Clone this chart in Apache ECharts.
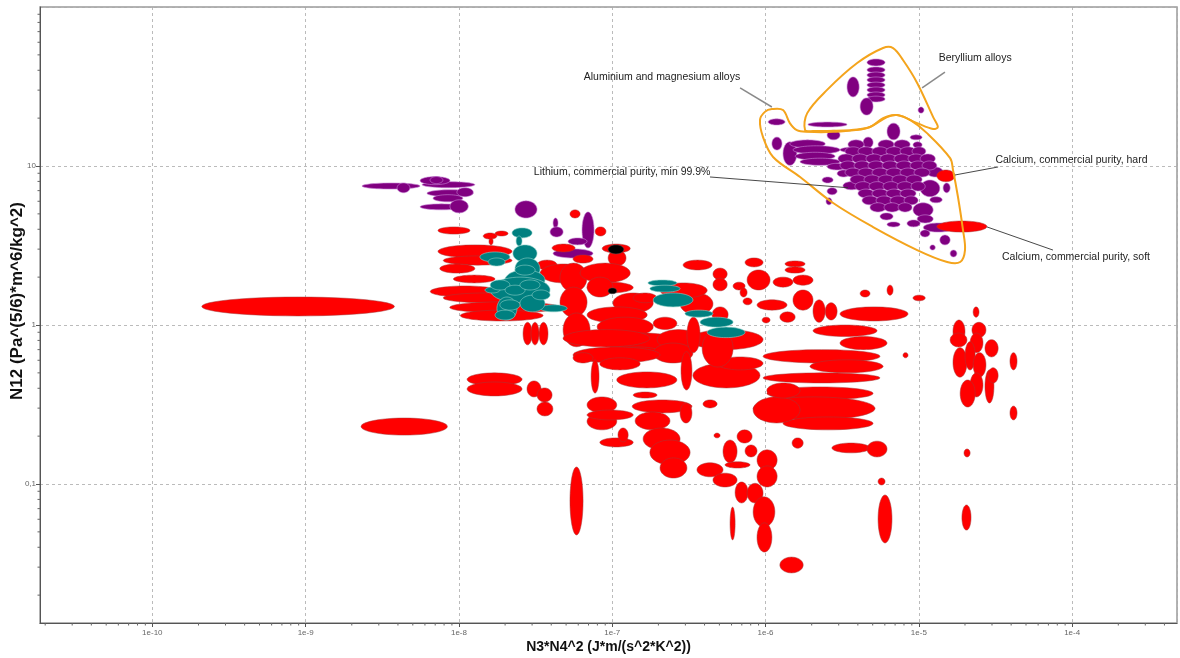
<!DOCTYPE html>
<html>
<head>
<meta charset="utf-8">
<script src="https://cdn.jsdelivr.net/npm/echarts@6/dist/echarts.min.js"></script>
<style>
  html, body { margin: 0; padding: 0; background: #fff; }
  #chart { width: 1180px; height: 658px; }
</style>
</head>
<body>
<div id="chart"></div>
<script>
// Each material is a property range: [xLow, xHigh, yLow, yHigh]
// x = N3*N4^2 (J*m/(s^2*K^2)), y = N12 (Pa^(5/6)*m^6/kg^2)

const redMaterials = [
  [2.1e-10, 3.8e-9, 1.14, 1.50], [2.3e-9, 8.4e-9, 0.203, 0.26],
  [1.13e-8, 2.58e-8, 0.414, 0.50], [1.13e-8, 2.58e-8, 0.358, 0.438],
  [2.78e-8, 3.43e-8, 0.353, 0.445], [3.23e-8, 4.05e-8, 0.328, 0.402], [3.23e-8, 4.1e-8, 0.268, 0.328],
  [7.3e-9, 1.18e-8, 3.73, 4.14], [1.72e-8, 2.09e-8, 3.63, 3.90], [1.44e-8, 1.77e-8, 3.47, 3.79],
  [1.57e-8, 1.67e-8, 3.19, 3.53],
  [7.3e-9, 2.22e-8, 2.64, 3.19], [7.9e-9, 2.22e-8, 2.38, 2.72], [7.5e-9, 1.27e-8, 2.12, 2.42],
  [9.2e-9, 1.72e-8, 1.84, 2.06], [6.5e-9, 1.85e-8, 1.50, 1.76], [7.9e-9, 2.78e-8, 1.38, 1.59],
  [8.7e-9, 4.56e-8, 1.19, 1.40], [1.02e-8, 3.54e-8, 1.06, 1.24],
  [3.23e-8, 4.37e-8, 2.22, 2.56], [3.38e-8, 6.85e-8, 1.84, 2.42], [4.56e-8, 6.85e-8, 1.61, 2.45],
  [4.56e-8, 6.85e-8, 1.12, 1.73], [4.78e-8, 7.17e-8, 0.73, 1.19],
  [5.3e-8, 6.17e-8, 4.71, 5.30], [7.73e-8, 9.1e-8, 3.63, 4.14], [8.6e-8, 1.31e-7, 2.84, 3.23],
  [9.4e-8, 1.23e-7, 2.35, 2.96],
  [6.17e-8, 1.31e-7, 1.84, 2.45], [6.85e-8, 1.37e-7, 1.59, 1.86], [6.85e-8, 1.01e-7, 1.50, 2.00],
  [1.01e-7, 1.85e-7, 1.19, 1.59], [6.85e-8, 1.69e-7, 1.03, 1.30], [7.97e-8, 1.85e-7, 0.846, 1.12],
  [8.3e-8, 2.9e-7, 0.70, 0.89], [1.01e-7, 2.14e-7, 0.604, 0.728], [1.37e-7, 1.96e-7, 1.38, 1.59],
  [1.85e-7, 2.64e-7, 0.936, 1.12], [1.96e-7, 3.74e-7, 0.70, 0.936], [1.85e-7, 3.36e-7, 0.577, 0.77],
  [4.78e-8, 1.76e-7, 0.728, 0.936], [5.55e-8, 2.05e-7, 0.577, 0.728], [1.07e-7, 2.64e-7, 0.402, 0.507],
  [8.3e-8, 1.52e-7, 0.522, 0.622], [7.28e-8, 8.2e-8, 0.373, 0.604], [5.55e-8, 7.49e-8, 0.577, 0.67],
  [2.62e-8, 3.0e-8, 0.75, 1.04], [2.95e-8, 3.33e-8, 0.75, 1.04], [3.33e-8, 3.81e-8, 0.75, 1.04],
  [2.81e-7, 3.31e-7, 0.39, 0.68], [2.9e-7, 4.48e-7, 2.22, 2.56], [7.35e-7, 9.63e-7, 2.32, 2.64],
  [4.54e-7, 5.62e-7, 1.92, 2.28], [4.54e-7, 5.62e-7, 1.64, 1.97], [7.58e-7, 1.07e-6, 1.66, 2.22],
  [6.14e-7, 7.35e-7, 1.66, 1.86], [1.34e-6, 1.81e-6, 2.32, 2.53], [1.34e-6, 1.81e-6, 2.12, 2.32],
  [1.51e-6, 2.04e-6, 1.78, 2.06], [1.12e-6, 1.51e-6, 1.73, 2.0], [1.51e-6, 2.04e-6, 1.24, 1.66],
  [8.8e-7, 1.38e-6, 1.24, 1.44], [6.82e-7, 7.58e-7, 1.5, 1.71], [7.13e-7, 8.17e-7, 1.34, 1.48],
  [9.5e-7, 1.07e-6, 1.03, 1.12], [1.24e-6, 1.56e-6, 1.04, 1.21], [2.04e-6, 2.45e-6, 1.04, 1.44],
  [2.45e-6, 2.93e-6, 1.075, 1.38], [4.14e-6, 4.8e-6, 1.5, 1.66], [6.2e-6, 6.79e-6, 1.54, 1.78],
  [3.06e-6, 8.5e-6, 1.06, 1.30], [2.04e-6, 5.34e-6, 0.846, 1.0], [3.06e-6, 6.2e-6, 0.70, 0.846],
  [9.63e-7, 5.58e-6, 0.577, 0.70], [1.95e-6, 5.84e-6, 0.50, 0.604], [9.63e-7, 5.58e-6, 0.432, 0.50],
  [1.02e-6, 5.03e-6, 0.338, 0.408], [8.3e-7, 5.18e-6, 0.253, 0.353], [1.3e-6, 5.03e-6, 0.219, 0.264],
  [3.22e-7, 9.63e-7, 0.70, 0.936], [3.36e-7, 9.2e-7, 0.402, 0.577], [4.83e-7, 9.63e-7, 0.522, 0.63],
  [8.3e-7, 1.68e-6, 0.242, 0.353], [1.02e-6, 1.68e-6, 0.347, 0.432], [3.86e-7, 6.14e-7, 0.544, 0.936],
  [4.48e-7, 5.7e-7, 1.04, 1.30], [3.07e-7, 3.74e-7, 0.67, 1.12], [2.77e-7, 4.54e-7, 1.16, 1.59],
  [2.05e-7, 4.16e-7, 1.48, 1.84],
  [1.37e-7, 1.96e-7, 0.347, 0.379], [6.85e-8, 1.07e-7, 0.28, 0.353], [6.85e-8, 1.07e-7, 0.219, 0.28],
  [6.85e-8, 1.37e-7, 0.253, 0.292], [8.3e-8, 1.37e-7, 0.171, 0.195], [1.09e-7, 1.27e-7, 0.184, 0.225],
  [1.35e-7, 3.31e-7, 0.28, 0.338], [2.77e-7, 3.31e-7, 0.242, 0.323], [1.41e-7, 2.38e-7, 0.219, 0.284],
  [1.59e-7, 2.77e-7, 0.164, 0.225], [1.76e-7, 3.22e-7, 0.132, 0.189], [2.05e-7, 3.07e-7, 0.109, 0.146],
  [3.57e-7, 5.28e-7, 0.111, 0.136], [4.54e-7, 6.52e-7, 0.0958, 0.117], [3.91e-7, 4.83e-7, 0.301, 0.338],
  [4.61e-7, 5.05e-7, 0.195, 0.209], [5.28e-7, 6.52e-7, 0.136, 0.189], [6.52e-7, 8.17e-7, 0.181, 0.219],
  [7.35e-7, 8.8e-7, 0.148, 0.176], [5.44e-7, 7.92e-7, 0.126, 0.138], [8.8e-7, 1.19e-6, 0.122, 0.164],
  [8.8e-7, 1.19e-6, 0.0958, 0.13], [6.33e-7, 7.69e-7, 0.076, 0.103], [7.58e-7, 9.63e-7, 0.076, 0.101],
  [8.3e-7, 1.15e-6, 0.0537, 0.0831], [8.8e-7, 1.10e-6, 0.0373, 0.057], [5.87e-7, 6.33e-7, 0.0445, 0.0716],
  [1.24e-6, 1.76e-6, 0.0276, 0.0347], [1.49e-6, 1.76e-6, 0.168, 0.195], [2.71e-6, 4.8e-6, 0.157, 0.181],
  [4.59e-6, 6.2e-6, 0.148, 0.186], [5.42e-6, 6.02e-6, 0.0986, 0.109], [5.42e-6, 6.68e-6, 0.0426, 0.0853],
  [7.88e-6, 8.5e-6, 0.622, 0.67], [5.3e-8, 6.45e-8, 0.0478, 0.128],
  [1.67e-5, 2.0e-5, 0.77, 1.075], [1.6e-5, 2.06e-5, 0.728, 0.89], [2.22e-5, 2.74e-5, 0.833, 1.04],
  [2.16e-5, 2.62e-5, 0.67, 0.89], [2.7e-5, 3.29e-5, 0.63, 0.809], [1.67e-5, 2.06e-5, 0.47, 0.72],
  [2.0e-5, 2.33e-5, 0.522, 0.786], [2.26e-5, 2.74e-5, 0.47, 0.67], [2.16e-5, 2.62e-5, 0.353, 0.50],
  [1.86e-5, 2.33e-5, 0.305, 0.451], [2.7e-5, 3.09e-5, 0.323, 0.522], [2.83e-5, 3.29e-5, 0.432, 0.538],
  [3.93e-5, 4.37e-5, 0.522, 0.67], [3.93e-5, 4.37e-5, 0.253, 0.309], [2.26e-5, 2.47e-5, 1.12, 1.30],
  [9.16e-6, 1.1e-5, 1.42, 1.54], [1.97e-5, 2.16e-5, 0.148, 0.166], [1.91e-5, 2.19e-5, 0.0513, 0.0738]
];

const tealMaterials = [
  [2.22e-8, 3.0e-8, 3.53, 4.08], [2.36e-8, 2.58e-8, 3.14, 3.63], [2.25e-8, 3.23e-8, 2.49, 3.19],
  [2.32e-8, 3.38e-8, 1.92, 2.64], [1.37e-8, 2.15e-8, 2.49, 2.88], [1.55e-8, 2.0e-8, 2.35, 2.64],
  [2.0e-8, 3.64e-8, 1.66, 2.22], [1.6e-8, 3.93e-8, 1.38, 2.0], [1.48e-8, 1.85e-8, 1.59, 1.73],
  [1.77e-8, 2.39e-8, 1.075, 1.5], [3.38e-8, 5.08e-8, 1.21, 1.34], [2.5e-8, 3.64e-8, 1.21, 1.54],
  [3.0e-8, 3.93e-8, 1.44, 1.66],
  [1.6e-8, 2.15e-8, 1.66, 1.92], [2.0e-8, 2.7e-8, 1.54, 1.78], [2.5e-8, 3.38e-8, 1.66, 1.92],
  [2.32e-8, 3.14e-8, 2.06, 2.38], [1.85e-8, 2.5e-8, 1.24, 1.44], [1.72e-8, 2.32e-8, 1.075, 1.24],
  [1.71e-7, 2.64e-7, 1.76, 1.92], [1.76e-7, 2.77e-7, 1.61, 1.78], [1.85e-7, 3.36e-7, 1.30, 1.59],
  [2.98e-7, 4.54e-7, 1.12, 1.24], [3.74e-7, 6.14e-7, 0.97, 1.12], [4.16e-7, 7.35e-7, 0.833, 0.97]
];

const purpleMaterials = [
  // low-x group
  [2.33e-9, 5.58e-9, 7.16, 7.82], [5.75e-9, 1.27e-8, 7.3, 7.97], [5.58e-9, 8.74e-9, 7.63, 8.58],
  [6.19e-9, 1.24e-8, 6.41, 7.09], [6.78e-9, 1.06e-8, 5.95, 6.6], [5.58e-9, 1.06e-8, 5.3, 5.78],
  [8.74e-9, 1.15e-8, 5.07, 6.13], [3.95e-9, 4.79e-9, 6.79, 7.82], [6.48e-9, 7.86e-9, 7.75, 8.58],
  [9.7e-9, 1.24e-8, 6.41, 7.3],
  [2.32e-8, 3.23e-8, 4.71, 6.04], [6.35e-8, 7.61e-8, 3.05, 5.14], [4.11e-8, 4.43e-8, 4.08, 4.71],
  [3.93e-8, 4.78e-8, 3.58, 4.14], [5.15e-8, 6.85e-8, 3.19, 3.53], [4.11e-8, 7.49e-8, 2.64, 3.01],
  // beryllium alloys
  [4.59e-6, 6.02e-6, 42.6, 47.1], [4.59e-6, 6.02e-6, 38.5, 42.0], [4.59e-6, 6.02e-6, 35.7, 39.0],
  [4.59e-6, 6.02e-6, 33.3, 36.3], [4.59e-6, 6.02e-6, 31.0, 33.7], [4.59e-6, 6.02e-6, 28.8, 31.4],
  [4.59e-6, 6.02e-6, 26.8, 29.2], [4.59e-6, 6.02e-6, 25.3, 27.5], [3.4e-6, 4.08e-6, 27.2, 36.3],
  [4.14e-6, 5.03e-6, 20.9, 26.8], [9.89e-6, 1.08e-5, 21.5, 23.5], [1.89e-6, 3.4e-6, 17.6, 18.9],
  // aluminium, magnesium and lithium alloys
  [1.04e-6, 1.34e-6, 18.1, 19.8], [1.1e-6, 1.28e-6, 12.6, 15.2], [1.3e-6, 1.6e-6, 10.1, 14.2],
  [1.44e-6, 2.45e-6, 13.0, 14.6], [1.51e-6, 3.06e-6, 11.9, 13.4], [1.56e-6, 2.84e-6, 10.9, 12.2],
  [1.68e-6, 3.06e-6, 10.1, 11.2], [2.52e-6, 3.06e-6, 14.6, 16.8], [3.06e-6, 5.03e-6, 12.1, 13.2],
  [4.33e-6, 5.03e-6, 13.0, 15.2], [2.52e-6, 3.4e-6, 9.44, 10.4], [2.34e-6, 2.76e-6, 7.82, 8.53],
  [2.52e-6, 2.93e-6, 6.6, 7.3], [2.48e-6, 2.71e-6, 5.70, 6.31], [2.93e-6, 3.56e-6, 8.53, 9.44],
  [3.2e-6, 4.14e-6, 7.09, 7.97], [6.2e-6, 7.54e-6, 14.6, 18.6], [8.77e-6, 1.05e-5, 14.6, 15.7],
  [9.16e-6, 1.05e-5, 13.0, 14.2], [1.13e-5, 1.44e-5, 8.53, 9.86], [1.02e-5, 1.37e-5, 6.41, 8.16],
  [1.18e-5, 1.42e-5, 5.87, 6.41], [1.44e-5, 1.6e-5, 6.79, 7.82], [9.16e-6, 1.24e-5, 4.78, 5.87],
  [9.75e-6, 1.24e-5, 4.38, 4.93], [5.58e-6, 6.79e-6, 4.58, 5.07], [6.2e-6, 7.54e-6, 4.14, 4.45],
  [8.37e-6, 1.02e-5, 4.14, 4.58], [1.07e-5, 1.67e-5, 3.84, 4.38], [1.02e-5, 1.18e-5, 3.58, 3.96],
  [1.37e-5, 1.6e-5, 3.19, 3.68], [1.18e-5, 1.28e-5, 2.96, 3.19], [1.6e-5, 1.77e-5, 2.68, 2.96],
  [3.45e-6, 4.39e-6, 12.8, 14.6], [5.42e-6, 6.89e-6, 12.8, 14.6], [6.89e-6, 8.77e-6, 12.8, 14.6],
  [3.30e-6, 4.20e-6, 11.6, 13.2], [4.01e-6, 5.10e-6, 11.6, 13.2], [4.95e-6, 6.30e-6, 11.6, 13.2],
  [6.11e-6, 7.77e-6, 11.6, 13.2], [7.54e-6, 9.58e-6, 11.6, 13.2], [9.03e-6, 1.11e-5, 11.6, 13.2],
  [2.97e-6, 3.78e-6, 10.4, 11.9], [3.67e-6, 4.66e-6, 10.4, 11.9], [4.52e-6, 5.76e-6, 10.4, 11.9],
  [5.58e-6, 7.10e-6, 10.4, 11.9], [6.89e-6, 8.77e-6, 10.4, 11.9], [8.50e-6, 1.08e-5, 10.4, 11.9],
  [1.02e-5, 1.28e-5, 10.4, 11.9],
  [3.06e-6, 3.89e-6, 9.44, 10.75], [3.78e-6, 4.80e-6, 9.44, 10.75], [4.66e-6, 5.93e-6, 9.44, 10.75],
  [5.76e-6, 7.32e-6, 9.44, 10.75], [7.10e-6, 9.03e-6, 9.44, 10.75], [8.77e-6, 1.11e-5, 9.44, 10.75],
  [1.05e-5, 1.31e-5, 9.44, 10.75],
  [3.30e-6, 4.20e-6, 8.53, 9.71], [4.01e-6, 5.10e-6, 8.53, 9.71], [4.95e-6, 6.30e-6, 8.53, 9.71],
  [6.11e-6, 7.77e-6, 8.53, 9.71], [7.54e-6, 9.58e-6, 8.53, 9.71], [9.30e-6, 1.18e-5, 8.53, 9.71],
  [3.56e-6, 4.52e-6, 7.70, 8.78], [4.39e-6, 5.58e-6, 7.70, 8.78], [5.42e-6, 6.89e-6, 7.70, 8.78],
  [6.68e-6, 8.50e-6, 7.70, 8.78], [8.25e-6, 1.05e-5, 7.70, 8.78],
  [3.83e-6, 4.88e-6, 6.96, 7.97], [4.73e-6, 6.02e-6, 6.96, 7.97], [5.84e-6, 7.43e-6, 6.96, 7.97],
  [7.21e-6, 9.16e-6, 6.96, 7.97], [8.90e-6, 1.10e-5, 6.96, 7.97],
  [4.01e-6, 5.10e-6, 6.31, 7.16], [4.95e-6, 6.30e-6, 6.31, 7.16], [6.11e-6, 7.77e-6, 6.31, 7.16],
  [7.54e-6, 9.58e-6, 6.31, 7.16],
  [4.26e-6, 5.42e-6, 5.70, 6.48], [5.26e-6, 6.68e-6, 5.70, 6.48], [6.49e-6, 8.25e-6, 5.70, 6.48],
  [8.01e-6, 9.89e-6, 5.70, 6.48],
  [4.80e-6, 6.11e-6, 5.14, 5.87], [5.93e-6, 7.54e-6, 5.14, 5.87], [7.32e-6, 9.03e-6, 5.14, 5.87]
];

const blackMaterials = [
  [9.4e-8, 1.19e-7, 2.80, 3.19], [9.4e-8, 1.07e-7, 1.57, 1.71]
];

// red ranges that sit on top of the purple ones (incl. calcium hard / soft)
const redTopMaterials = [
  [4.05e-8, 5.72e-8, 2.88, 3.23], [5.55e-8, 7.49e-8, 2.45, 2.76],
  [1.31e-5, 1.72e-5, 7.97, 9.44], [1.31e-5, 2.78e-5, 3.84, 4.51]
];

// envelope outlines [x, y]
const hullAlMg = [
  [9.9e-7, 21.9], [1.10e-6, 22.8], [1.30e-6, 22.5], [1.44e-6, 18.6], [1.60e-6, 16.8], [1.87e-6, 16.4],
  [2.76e-6, 16.4], [4.59e-6, 17.3], [6.2e-6, 20.3], [7.21e-6, 20.9], [8.77e-6, 19.5], [1.13e-5, 16.1],
  [1.60e-5, 11.2], [1.67e-5, 9.44], [1.80e-5, 6.38], [1.94e-5, 3.96], [2.0e-5, 2.96], [1.86e-5, 2.49],
  [1.53e-5, 2.49], [9.75e-6, 2.96], [5.03e-6, 4.13], [2.76e-6, 5.85], [1.68e-6, 8.53], [1.12e-6, 11.4],
  [9.63e-7, 15.2], [9.2e-7, 19.5]
];
const hullBe = [
  [1.81e-6, 16.8], [1.87e-6, 21.5], [2.52e-6, 30.1], [3.96e-6, 44.4], [5.84e-6, 55.2], [6.79e-6, 55.2],
  [7.88e-6, 46.4], [9.75e-6, 33.3], [1.24e-5, 20.3], [1.33e-5, 17.6], [1.24e-5, 17.1], [9.75e-6, 18.6],
  [7.21e-6, 20.9], [5.84e-6, 20.0], [4.8e-6, 17.6], [3.56e-6, 16.8], [2.04e-6, 16.6]
];

// annotations
const labelTexts = [
  'Aluminium and magnesium alloys', 'Beryllium alloys', 'Lithium, commercial purity, min 99.9%',
  'Calcium, commercial purity, hard', 'Calcium, commercial purity, soft'
];
const labelAt = [[2.11e-7, 36.3], [2.33e-5, 47.8], [1.16e-7, 9.17], [9.9e-5, 10.9], [1.06e-4, 2.68]];
const leaderFrom = [[6.82e-7, 31.0], [1.48e-5, 39.0], [4.34e-7, 8.53], [3.29e-5, 9.86], [2.78e-5, 4.14]];
const leaderTo = [[1.10e-6, 23.5], [1.05e-5, 31.0], [3.45e-6, 7.30], [1.72e-5, 8.78], [7.5e-5, 2.96]];

const X_MIN = 1.85e-11, X_MAX = 4.83e-4, Y_MIN = 0.01336, Y_MAX = 100;

function ellipseRenderer(fill, stroke, lw) {
  return function (params, api) {
    const a = api.coord([api.value(0), api.value(2)]);
    const b = api.coord([api.value(1), api.value(3)]);
    const cx = (a[0] + b[0]) / 2, cy = (a[1] + b[1]) / 2;
    const rx = Math.abs(b[0] - a[0]) / 2, ry = Math.abs(b[1] - a[1]) / 2;
    const pts = [];
    for (let i = 0; i < 48; i++) {
      const t = i / 48 * Math.PI * 2;
      pts.push([cx + rx * Math.cos(t), cy + ry * Math.sin(t)]);
    }
    return { type: 'polygon', shape: { points: pts }, style: { fill: fill, stroke: stroke, lineWidth: lw } };
  };
}

function ellipseSeries(data, fill, stroke, lw, z) {
  return {
    type: 'custom', data: data, z: z, silent: true, clip: true,
    dimensions: ['xLow', 'xHigh', 'yLow', 'yHigh'],
    encode: { x: [0, 1], y: [2, 3] },
    renderItem: ellipseRenderer(fill, stroke, lw)
  };
}

function hullSeries(points) {
  return {
    type: 'custom', data: points, z: 20, silent: true, clip: false,
    encode: { x: 0, y: 1 },
    renderItem: function (params, api) {
      if (params.dataIndex !== 0) return null;
      const pts = points.map(p => api.coord(p));
      return { type: 'polygon', shape: { points: pts, smooth: 0.35 },
        style: { fill: 'none', stroke: '#f4a41c', lineWidth: 2 } };
    }
  };
}

// minor tick positions (2..9 within each decade)
const minorX = [], minorY = [];
for (let e = -11; e <= -4; e++) for (let m = 2; m <= 9; m++) {
  const v = m * Math.pow(10, e);
  if (v > X_MIN && v < X_MAX) minorX.push([v, Y_MIN]);
}
for (let e = -2; e <= 1; e++) for (let m = 2; m <= 9; m++) {
  const v = m * Math.pow(10, e);
  if (v > Y_MIN && v < Y_MAX) minorY.push([X_MIN, v]);
}

const axisFont = 'Liberation Sans';

const option = {
  animation: false,
  backgroundColor: '#fff',
  grid: {
    left: 40, right: 3, top: 7, bottom: 35, containLabel: false, outerBoundsMode: 'none',
    show: true, borderColor: '#9a9a9a', borderWidth: 1.5
  },
  xAxis: {
    type: 'log', logBase: 10, min: X_MIN, max: X_MAX,
    name: 'N3*N4^2 (J*m/(s^2*K^2))', nameLocation: 'middle', nameGap: 17, nameMoveOverlap: false,
    nameTextStyle: { fontFamily: axisFont, fontWeight: 'bold', fontSize: 14, color: '#111' },
    axisLine: { lineStyle: { color: '#555', width: 1 } },
    axisTick: { length: 4, lineStyle: { color: '#555' } },
    axisLabel: {
      fontFamily: axisFont, fontSize: 8, color: '#666', margin: 6,
      showMinLabel: false, showMaxLabel: false,
      formatter: v => '1e' + Math.round(Math.log10(v))
    },
    splitLine: { show: true, lineStyle: { color: '#aaa', type: [3, 3], width: 0.8 } }
  },
  yAxis: {
    type: 'log', logBase: 10, min: Y_MIN, max: Y_MAX,
    name: 'N12 (Pa^(5/6)*m^6/kg^2)', nameLocation: 'middle', nameGap: 14, nameMoveOverlap: false,
    nameTextStyle: { fontFamily: axisFont, fontWeight: 'bold', fontSize: 17, color: '#111', padding: [0, 0, 0, 28] },
    axisLine: { show: true, lineStyle: { color: '#555', width: 1 } },
    axisTick: { show: true, length: 4, lineStyle: { color: '#555' } },
    axisLabel: {
      fontFamily: axisFont, fontSize: 8, color: '#666', margin: 4,
      showMinLabel: false, showMaxLabel: false,
      formatter: v => {
        const e = Math.round(Math.log10(v));
        return e >= 0 ? String(Math.pow(10, e)) : '0,' + '0'.repeat(-e - 1) + '1';
      }
    },
    splitLine: { show: true, lineStyle: { color: '#aaa', type: [3, 3], width: 0.8 } }
  },
  series: [
    ellipseSeries(redMaterials, '#ff0000', '#a33a3a', 0.5, 2),
    ellipseSeries(tealMaterials, '#008080', '#8fd0c8', 0.6, 3),
    ellipseSeries(purpleMaterials, '#800080', '#c98ad6', 0.6, 4),
    ellipseSeries(blackMaterials, '#000000', '#555555', 0.5, 5),
    ellipseSeries(redTopMaterials, '#ff0000', '#a33a3a', 0.5, 6),
    hullSeries(hullAlMg),
    hullSeries(hullBe),
    {
      type: 'custom', data: labelAt, z: 30, silent: true, clip: false,
      encode: { x: 0, y: 1 },
      renderItem: function (params, api) {
        const i = params.dataIndex;
        const t = api.coord(labelAt[i]);
        const a = api.coord(leaderFrom[i]);
        const b = api.coord(leaderTo[i]);
        return {
          type: 'group', children: [
            { type: 'line', shape: { x1: a[0], y1: a[1], x2: b[0], y2: b[1] },
              style: { stroke: i < 2 ? '#8a8a8a' : '#333', lineWidth: i < 2 ? 1.5 : 0.9 } },
            { type: 'text', x: t[0], y: t[1],
              style: { text: labelTexts[i], fill: '#222', fontSize: 10.5, fontFamily: axisFont,
                align: 'center', verticalAlign: 'middle' } }
          ]
        };
      }
    },
    {
      type: 'custom', data: minorX, z: 1, silent: true, clip: false,
      encode: { x: 0, y: 1 },
      renderItem: function (params, api) {
        const p = api.coord([api.value(0), api.value(1)]);
        return { type: 'line', shape: { x1: p[0], y1: p[1], x2: p[0], y2: p[1] + 2.5 },
          style: { stroke: '#666', lineWidth: 1 } };
      }
    },
    {
      type: 'custom', data: minorY, z: 1, silent: true, clip: false,
      encode: { x: 0, y: 1 },
      renderItem: function (params, api) {
        const p = api.coord([api.value(0), api.value(1)]);
        return { type: 'line', shape: { x1: p[0] - 2.5, y1: p[1], x2: p[0], y2: p[1] },
          style: { stroke: '#666', lineWidth: 1 } };
      }
    }
  ]
};

const chart = echarts.init(document.getElementById('chart'), null, { renderer: 'canvas' });
chart.setOption(option);
</script>
</body>
</html>
